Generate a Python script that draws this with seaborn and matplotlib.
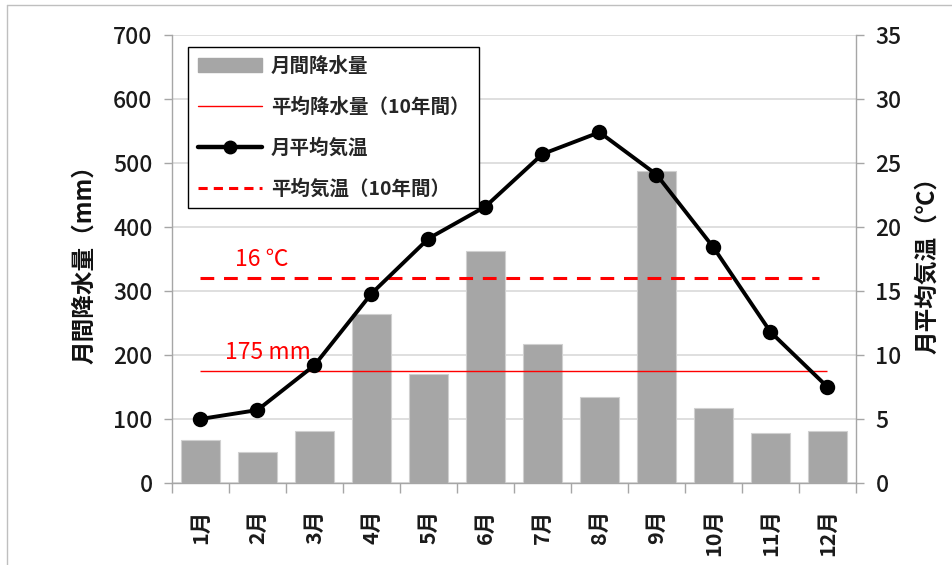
import numpy as np
import pandas as pd
import matplotlib
matplotlib.use("Agg")
import matplotlib.pyplot as plt
from matplotlib.patches import Patch
from matplotlib.lines import Line2D
import seaborn as sns

months = ["1月", "2月", "3月", "4月", "5月", "6月", "7月", "8月", "9月", "10月", "11月", "12月"]
precip = [67, 48, 81, 264, 170, 362, 217, 134, 487, 117, 78, 81]
temp = [5.0, 5.7, 9.2, 14.8, 19.1, 21.6, 25.7, 27.4, 24.1, 18.4, 11.8, 7.5]
avg_precip = 175
avg_temp = 16
precip_ticks = [0, 100, 200, 300, 400, 500, 600, 700]
temp_ticks = [0, 5, 10, 15, 20, 25, 30, 35]

sns.set_theme(style="white")
plt.rcParams['font.family'] = ['Noto Sans CJK JP', 'DejaVu Sans']

df = pd.DataFrame({"month": months, "precip": precip, "temp": temp})

fig = plt.figure(figsize=(9.53, 5.65), dpi=100)
ax = fig.add_axes([172/953, 1-483/565, (856-172)/953, (483-35)/565])

grey = "#A6A6A6"
sns.barplot(data=df, x="month", y="precip", color=grey, width=0.67, ax=ax,
            edgecolor="#d0d0d0", linewidth=0.8, saturation=1, zorder=2)
ax.set_ylim(0, 700)
ax.set_yticks(precip_ticks)
ax.yaxis.grid(True, color="#d9d9d9", linewidth=1.2, zorder=0)
ax.set_axisbelow(True)
ax.hlines(avg_precip, 0, 11, color="#ff0000", linewidth=1.0, zorder=3)

ax2 = ax.twinx()
sns.pointplot(data=df, x="month", y="temp", color="black", ax=ax2,
              markers="o", markersize=9, linewidth=2.8, zorder=4)
ax2.set_ylim(0, 35)
ax2.set_yticks(temp_ticks)
ax2.hlines(avg_temp, 0, 10.85, color="#ff0000", linewidth=2.2,
           linestyle=(0, (4.5, 3.2)), zorder=3)
ax.set_xlim(-0.5, 11.5)
ax2.set_xlim(-0.5, 11.5)

ax2.text(0.6, 16.6, "16 ℃", color="#ff0000", fontsize=16.5, va="bottom", ha="left")
ax2.text(0.43, 186/20, "175 mm", color="#ff0000", fontsize=16.5, va="bottom", ha="left")

# spines
for a in (ax, ax2):
    for s in a.spines.values():
        s.set_visible(False)
ax.spines["left"].set_visible(True)
ax.spines["bottom"].set_visible(True)
ax2.spines["right"].set_visible(True)
for s in (ax.spines["left"], ax.spines["bottom"], ax2.spines["right"]):
    s.set_color("#a6a6a6")
    s.set_linewidth(1.0)

ax.set_xlabel("")
ax.set_ylabel("月間降水量（mm）", fontsize=17, fontweight="bold", color="#111111", labelpad=12)
ax2.set_ylabel("月平均気温（℃）", fontsize=17, fontweight="bold", color="#111111",
               rotation=90, labelpad=10)
ax2.set_xlabel("")

ax.tick_params(axis="y", which="major", left=True, length=6, width=1, color="#a6a6a6",
               labelsize=16.5, labelcolor="#1a1a1a", pad=8)
ax2.tick_params(axis="y", which="major", right=True, length=6, width=1, color="#a6a6a6",
                labelsize=16.5, labelcolor="#1a1a1a", pad=8)
for lab in ax.get_yticklabels() + ax2.get_yticklabels():
    lab.set_fontweight("medium")
ax.set_xticks(range(12))
ax.set_xticklabels(months, rotation=90, fontweight="bold")
ax.set_xticks(np.arange(-0.5, 12, 1), minor=True)
ax.tick_params(axis="x", which="major", bottom=True, length=0, labelsize=15.5,
               labelcolor="#1a1a1a", pad=19)
ax.tick_params(axis="x", which="minor", bottom=True, length=7, width=1, color="#a6a6a6")
ax2.tick_params(axis="x", which="both", bottom=False, top=False, labelbottom=False)

handles = [
    Patch(facecolor=grey, edgecolor=grey),
    Line2D([], [], color="#ff0000", linewidth=1.0),
    Line2D([], [], color="black", linewidth=3.2, marker="o", markersize=9),
    Line2D([], [], color="#ff0000", linewidth=2.2, linestyle=(0, (3, 2))),
]
labels = ["月間降水量", "平均降水量（10年間）", "月平均気温", "平均気温（10年間）"]
leg = ax2.legend(handles, labels, loc="upper left",
                 bbox_to_anchor=(188/953, 1-47/565), bbox_transform=fig.transFigure,
                 frameon=True, fancybox=False, edgecolor="black", framealpha=1,
                 prop={"size": 14, "weight": "bold"}, handlelength=3.3,
                 handletextpad=0.45, labelspacing=1.1, borderpad=0.5, borderaxespad=0)
leg.get_frame().set_linewidth(1.0)

# outer chart border
fig.add_artist(Line2D([7/953, 7/953], [0, 1-5/565], color="#bfbfbf", linewidth=1,
                      transform=fig.transFigure))
fig.add_artist(Line2D([7/953, 1], [1-5/565, 1-5/565], color="#bfbfbf", linewidth=1,
                      transform=fig.transFigure))

fig.savefig("out.png", dpi=100)
